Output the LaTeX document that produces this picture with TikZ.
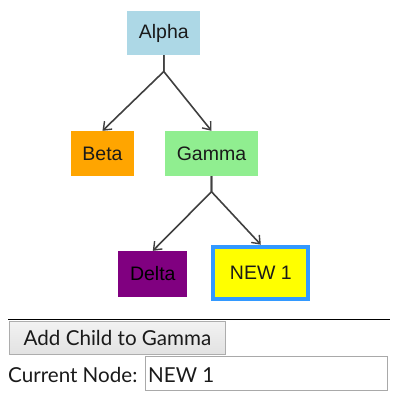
\documentclass[tikz,border=0pt]{standalone}
\usepackage{fontspec}
\setmainfont{Liberation Sans}
\newfontfamily\uifont{Lato}
\usetikzlibrary{arrows.meta}
\definecolor{cAlpha}{HTML}{ADD8E6}
\definecolor{cBeta}{HTML}{FFA500}
\definecolor{cGamma}{HTML}{90EE90}
\definecolor{cDelta}{HTML}{800080}
\definecolor{cNew}{HTML}{FFFF00}
\definecolor{cSel}{HTML}{3399FF}
\definecolor{cLine}{HTML}{404040}
\definecolor{cTxt}{HTML}{1A1A1A}
\definecolor{cBtnBorder}{HTML}{ADADAD}
\definecolor{cBtnTop}{HTML}{F2F2F2}
\definecolor{cBtnBot}{HTML}{E2E2E2}
\definecolor{cInBorder}{HTML}{A9A9A9}
\tikzset{
  treenode/.style={inner sep=0pt, text=cTxt, font=\fontsize{19.5}{21}\selectfont},
  edge/.style={draw=cLine, line width=1.6pt, -{Straight Barb[length=7pt,width=11pt,line width=1.4pt]}},
  uitext/.style={inner sep=0pt, text=cTxt, font=\uifont\fontsize{20.6}{24}\selectfont},
}
\begin{document}
\begin{tikzpicture}[x=1pt,y=-1pt]
\useasboundingbox (0,0) rectangle (400,400);
\fill[white] (0,0) rectangle (400,400);
% tree nodes
\node[treenode, fill=cAlpha, minimum width=73pt, minimum height=44pt] (alpha) at (163.8,33) {Alpha};
\node[treenode, fill=cBeta, minimum width=63.6pt, minimum height=45pt] (beta) at (102.5,153.5) {Beta};
\node[treenode, fill=cGamma, minimum width=92.4pt, minimum height=45pt] (gamma) at (211.5,153.5) {Gamma};
\node[treenode, fill=cDelta, text=black, minimum width=69pt, minimum height=45.7pt] (delta) at (152.8,273.9) {Delta};
\node[treenode, fill=cNew, draw=cSel, line width=4pt, minimum width=95pt, minimum height=52.3pt] (new) at (260.8,272.8) {NEW 1};
% forks
\coordinate (f1) at (163.8,71.5);
\coordinate (f2) at (211.5,191.7);
\draw[edge] (alpha.south) -- (f1) -- (beta.north);
\draw[edge] (alpha.south) -- (f1) -- (gamma.north);
\draw[edge] (gamma.south) -- (f2) -- (delta.north);
\draw[edge] (gamma.south) -- (f2) -- (new.north);
% separator
\coordinate (s1) at (8,319.3);
\coordinate (s2) at (389.5,319.3);
\draw[black, line width=1pt] (s1) -- (s2);
% button
\node[uitext, draw=cBtnBorder, line width=1pt, top color=cBtnTop, bottom color=cBtnBot, minimum width=216pt, minimum height=33pt] (btn) at (117.5,337.8) {Add Child to Gamma};
% current node
\node[uitext, anchor=base west] (lbl) at (8,382) {Current Node:};
\node[draw=cInBorder, line width=1.2pt, minimum width=242pt, minimum height=34pt, inner sep=0pt] (input) at (266.5,373.8) {};
\node[uitext, anchor=base west] (val) at (148,382) {NEW 1};
\end{tikzpicture}
\end{document}
